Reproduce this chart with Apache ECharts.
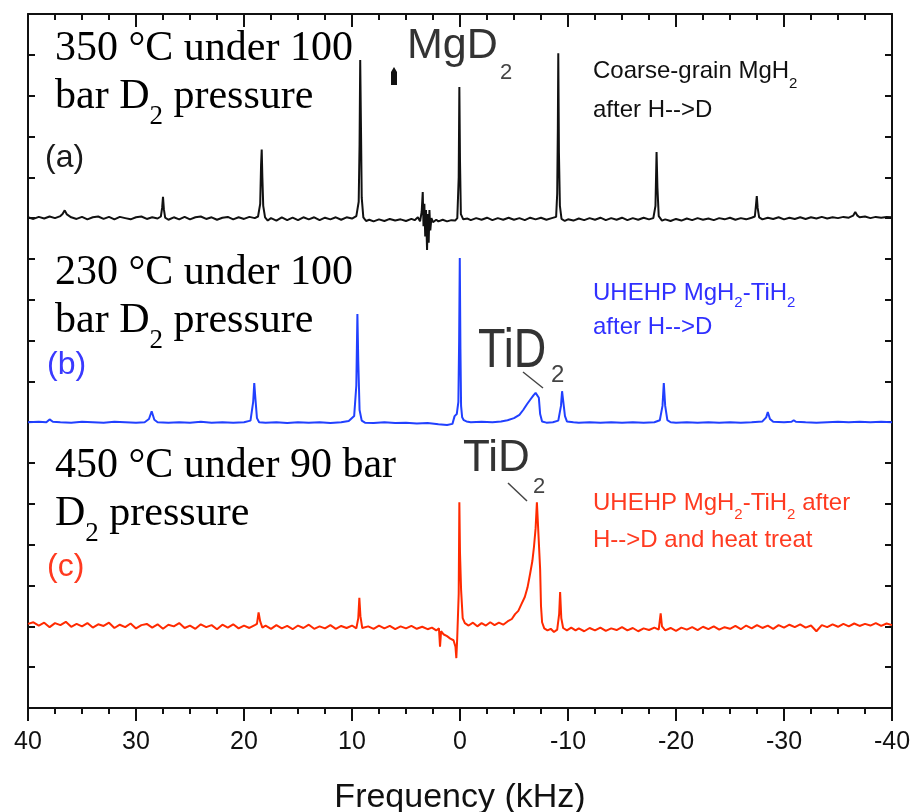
<!DOCTYPE html>
<html>
<head>
<meta charset="utf-8">
<script src="https://cdn.jsdelivr.net/npm/echarts@6/dist/echarts.min.js"></script>
<style>
  html, body { margin: 0; padding: 0; background: #ffffff; }
  #chart { width: 913px; height: 812px; }
</style>
</head>
<body>
<div id="chart"></div>
<script>
// Frequency axis (kHz), drawn from +40 on the left to -40 on the right
const freqTicks = [40, 30, 20, 10, 0, -10, -20, -30, -40];

// (a) Coarse-grain MgH2 after H-->D, 350 °C / 100 bar D2  — [kHz, intensity]
const traceA = [
  [40.0,0.02],[39.5,-0.02],[39.0,0.03],[38.5,-0.01],[38.0,0.04],[37.5,0.0],[37.0,0.05],[36.8,0.1],[36.6,0.19],[36.4,0.09],
  [36.0,0.02],[35.5,-0.02],[35.0,0.03],[34.5,-0.03],[34.0,0.02],[33.5,0.04],[33.0,-0.02],[32.5,0.03],[32.0,-0.03],[31.5,0.03],
  [31.0,0.0],[30.5,-0.03],[30.0,0.02],[29.5,0.04],[29.0,-0.02],[28.5,0.02],[28.0,-0.01],[27.7,0.04],[27.58,0.25],[27.5,0.52],
  [27.42,0.22],[27.3,0.01],[27.0,-0.04],[26.5,0.02],[26.0,-0.03],[25.5,0.03],[25.0,-0.03],[24.5,0.02],[24.0,0.04],[23.5,-0.02],
  [23.0,0.02],[22.5,-0.04],[22.0,0.01],[21.5,0.03],[21.0,-0.03],[20.5,0.02],[20.0,-0.02],[19.5,0.03],[19.0,0.0],[18.7,0.04],
  [18.5,0.35],[18.42,1.3],[18.36,1.68],[18.3,1.0],[18.22,0.3],[18.05,0.02],[17.8,-0.06],[17.5,0.0],[17.0,-0.06],[16.5,0.02],
  [16.0,-0.05],[15.5,0.01],[15.0,-0.05],[14.5,0.02],[14.0,-0.03],[13.5,0.02],[13.0,-0.05],[12.5,0.01],[12.0,-0.03],[11.5,0.02],
  [11.0,-0.04],[10.5,0.02],[10.0,-0.01],[9.6,0.05],[9.38,0.4],[9.3,1.8],[9.24,3.87],[9.16,2.0],[9.1,0.5],[8.95,0.02],
  [8.7,-0.07],[8.4,-0.04],[8.0,-0.08],[7.5,-0.03],[7.0,-0.07],[6.5,-0.02],[6.0,-0.06],[5.5,-0.03],[5.0,-0.07],[4.5,-0.02],
  [4.2,-0.05],[3.9,0.02],[3.7,-0.08],[3.55,0.15],[3.45,0.64],[3.38,-0.2],[3.3,0.35],[3.22,-0.45],[3.15,0.2],[3.05,-0.78],
  [2.98,0.1],[2.9,-0.6],[2.83,0.2],[2.75,-0.3],[2.65,0.0],[2.5,-0.1],[2.2,-0.04],[2.0,-0.08],[1.6,-0.04],[1.2,-0.08],
  [0.8,-0.05],[0.45,-0.06],[0.25,0.0],[0.12,1.0],[0.06,3.21],[0.0,1.4],[-0.08,0.1],[-0.3,-0.03],[-0.7,-0.01],[-1.0,-0.05],
  [-1.5,0.0],[-2.0,-0.04],[-2.5,0.01],[-3.0,-0.05],[-3.5,0.0],[-4.0,-0.04],[-4.5,0.01],[-5.0,-0.04],[-5.5,0.0],[-6.0,-0.05],
  [-6.5,0.01],[-7.0,-0.03],[-7.5,0.01],[-8.0,-0.04],[-8.5,0.0],[-8.9,0.03],[-9.0,0.6],[-9.06,2.2],[-9.1,4.04],[-9.16,1.6],
  [-9.25,0.3],[-9.4,-0.02],[-9.7,-0.07],[-10.0,-0.03],[-10.5,-0.06],[-11.0,-0.01],[-11.5,-0.05],[-12.0,0.0],[-12.5,-0.04],[-13.0,0.01],
  [-13.5,-0.05],[-14.0,0.0],[-14.5,-0.04],[-15.0,0.01],[-15.5,-0.05],[-16.0,0.0],[-16.5,-0.04],[-17.0,0.01],[-17.5,-0.03],[-17.9,0.0],
  [-18.1,0.3],[-18.2,1.62],[-18.28,0.75],[-18.4,0.05],[-18.7,-0.06],[-19.0,-0.03],[-19.5,-0.07],[-20.0,-0.02],[-20.5,-0.06],[-21.0,-0.01],
  [-21.5,-0.05],[-22.0,0.0],[-22.5,-0.04],[-23.0,-0.01],[-23.5,-0.05],[-24.0,0.0],[-24.5,-0.03],[-25.0,0.01],[-25.5,-0.04],[-26.0,0.0],
  [-26.5,-0.03],[-27.0,0.01],[-27.3,0.04],[-27.4,0.3],[-27.48,0.54],[-27.56,0.25],[-27.7,0.02],[-28.0,-0.03],[-28.5,0.01],[-29.0,-0.02],
  [-29.5,0.02],[-30.0,-0.03],[-30.5,0.01],[-31.0,-0.02],[-31.5,0.02],[-32.0,-0.02],[-32.5,0.02],[-33.0,-0.01],[-33.5,0.03],[-34.0,-0.01],
  [-34.5,0.02],[-35.0,0.0],[-35.5,0.03],[-36.0,0.01],[-36.4,0.06],[-36.6,0.15],[-36.8,0.06],[-37.0,0.02],[-37.5,0.04],[-38.0,0.0],
  [-38.5,0.03],[-39.0,0.01],[-39.5,0.03],[-40.0,0.02]
];

// (b) UHEHP MgH2-TiH2 after H-->D, 230 °C / 100 bar D2
const traceB = [
  [40,0.0],[39,0.01],[38.3,0.0],[38.0,0.07],[37.7,0.01],[37,0.0],[36,-0.01],[35,0.01],[34,0.0],[33,-0.01],
  [32,0.01],[31,0.0],[30,-0.01],[29.2,0.0],[28.8,0.08],[28.55,0.27],[28.3,0.06],[28.0,0.0],[27,-0.01],[26,0.0],
  [25,-0.01],[24,0.01],[23,-0.01],[22,0.0],[21,-0.01],[20,0.0],[19.4,0.04],[19.15,0.5],[19.05,0.96],[18.95,0.6],
  [18.8,0.1],[18.6,0.0],[18,-0.01],[17,0.0],[16,-0.02],[15,0.0],[14,-0.01],[13,0.0],[12,-0.02],[11,0.0],
  [10.3,0.03],[9.8,0.15],[9.6,0.9],[9.5,2.65],[9.42,1.5],[9.3,0.3],[9.1,0.04],[8.8,-0.01],[8,-0.02],[7,0.0],
  [6,-0.02],[5,-0.01],[4,-0.03],[3,-0.02],[2,-0.05],[1.2,-0.07],[0.7,-0.04],[0.5,0.15],[0.3,0.2],[0.15,0.5],
  [0.08,2.0],[0.02,4.02],[-0.04,1.8],[-0.1,0.4],[-0.2,0.12],[-0.35,0.05],[-0.6,0.02],[-1.0,0.0],[-2.0,0.01],[-3.0,0.0],
  [-3.8,0.02],[-4.4,0.05],[-5.0,0.1],[-5.5,0.18],[-5.85,0.3],[-6.2,0.44],[-6.5,0.55],[-6.8,0.66],[-7.0,0.72],[-7.15,0.76],
  [-7.3,0.6],[-7.42,0.2],[-7.6,0.02],[-8.0,-0.01],[-8.6,0.0],[-9.1,0.04],[-9.35,0.4],[-9.45,0.76],[-9.6,0.74],[-9.72,0.15],
  [-9.9,0.02],[-10.5,0.0],[-11,-0.01],[-12,0.0],[-13,-0.01],[-14,0.0],[-15,-0.01],[-16,0.0],[-17,-0.01],[-18,0.0],
  [-18.5,0.05],[-18.75,0.4],[-18.87,0.96],[-19.0,0.4],[-19.2,0.05],[-19.5,0.0],[-20,-0.01],[-21,0.0],[-22,-0.01],[-23,0.0],
  [-24,-0.01],[-25,0.0],[-26,-0.01],[-27,0.0],[-28,0.02],[-28.35,0.12],[-28.5,0.25],[-28.7,0.08],[-29,0.01],[-30,0.0],
  [-30.7,0.01],[-30.9,0.05],[-31.1,0.01],[-32,0.0],[-33,-0.01],[-34,0.0],[-35,0.01],[-36,0.0],[-37,0.01],[-38,0.0],
  [-39,0.01],[-40,0.0]
];

// (c) UHEHP MgH2-TiH2 after H-->D and heat treat, 450 °C / 90 bar D2
const traceC = [
  [40.0,0.06],[39.5,0.1],[39.0,0.02],[38.5,0.09],[38.0,-0.02],[37.5,0.08],[37.0,0.03],[36.5,0.11],[36.0,-0.01],[35.5,0.06],
  [35.0,0.0],[34.5,0.08],[34.0,-0.03],[33.5,0.05],[33.0,0.01],[32.5,0.09],[32.0,-0.04],[31.5,0.04],[31.0,-0.02],[30.5,0.07],
  [30.0,-0.05],[29.5,0.03],[29.0,0.06],[28.5,-0.03],[28.0,0.05],[27.5,-0.06],[27.0,0.04],[26.5,0.0],[26.0,0.08],[25.5,-0.04],
  [25.0,0.02],[24.5,-0.06],[24.0,0.05],[23.5,-0.02],[23.0,0.03],[22.5,-0.07],[22.0,0.04],[21.5,-0.03],[21.0,0.05],[20.5,-0.05],
  [20.0,0.02],[19.5,-0.04],[19.0,0.03],[18.8,0.06],[18.65,0.34],[18.5,0.12],[18.3,-0.03],[18.0,0.02],[17.5,-0.06],[17.0,0.03],
  [16.5,-0.05],[16.0,0.01],[15.5,-0.07],[15.0,0.02],[14.5,-0.04],[14.0,0.04],[13.5,-0.06],[13.0,0.0],[12.5,-0.05],[12.0,0.03],
  [11.5,-0.06],[11.0,0.01],[10.5,-0.04],[10.0,0.02],[9.6,-0.05],[9.42,0.2],[9.32,0.7],[9.22,0.25],[9.05,-0.04],[8.5,0.0],
  [8.0,-0.06],[7.5,0.02],[7.0,-0.05],[6.5,0.01],[6.0,-0.07],[5.5,0.0],[5.0,-0.05],[4.5,0.01],[4.0,-0.06],[3.5,-0.01],
  [3.0,-0.07],[2.6,-0.03],[2.2,-0.1],[1.95,-0.05],[1.85,-0.5],[1.75,-0.12],[1.5,-0.2],[1.2,-0.24],[0.9,-0.3],[0.6,-0.34],
  [0.42,-0.5],[0.34,-0.78],[0.26,-0.3],[0.12,0.8],[0.06,3.04],[0.0,1.8],[-0.1,0.9],[-0.25,0.2],[-0.45,0.08],[-0.8,0.02],
  [-1.2,0.09],[-1.6,0.0],[-2.0,0.08],[-2.4,0.02],[-2.8,0.1],[-3.2,0.03],[-3.6,0.09],[-4.0,0.04],[-4.4,0.12],[-4.8,0.18],
  [-5.1,0.3],[-5.4,0.38],[-5.7,0.55],[-6.0,0.72],[-6.25,0.95],[-6.5,1.3],[-6.7,1.6],[-6.85,1.95],[-7.0,2.4],[-7.12,3.04],
  [-7.3,3.04],[-7.42,1.4],[-7.5,0.5],[-7.6,0.1],[-7.8,-0.05],[-8.1,-0.1],[-8.4,-0.06],[-8.7,-0.14],[-9.0,-0.08],[-9.18,0.3],
  [-9.27,0.84],[-9.38,0.2],[-9.55,-0.04],[-9.9,-0.1],[-10.3,-0.03],[-10.7,-0.1],[-11.0,-0.05],[-11.5,-0.12],[-12.0,-0.04],[-12.5,-0.1],
  [-13.0,-0.03],[-13.5,-0.11],[-14.0,-0.05],[-14.5,-0.09],[-15.0,-0.02],[-15.5,-0.1],[-16.0,-0.04],[-16.5,-0.12],[-17.0,-0.05],[-17.5,-0.09],
  [-18.0,-0.03],[-18.4,-0.08],[-18.58,0.32],[-18.7,0.0],[-19.0,-0.1],[-19.5,-0.04],[-20.0,-0.11],[-20.5,-0.03],[-21.0,-0.08],[-21.5,-0.02],
  [-22.0,-0.09],[-22.5,-0.01],[-23.0,-0.07],[-23.5,0.0],[-24.0,-0.08],[-24.5,-0.02],[-25.0,-0.06],[-25.5,0.01],[-26.0,-0.07],[-26.5,0.02],
  [-27.0,-0.05],[-27.5,0.03],[-28.0,-0.04],[-28.5,0.02],[-29.0,-0.06],[-29.5,0.03],[-30.0,-0.03],[-30.5,0.04],[-31.0,-0.02],[-31.5,0.05],
  [-32.0,-0.03],[-32.5,0.02],[-33.0,-0.12],[-33.5,0.03],[-34.0,-0.02],[-34.5,0.05],[-35.0,-0.01],[-35.5,0.06],[-36.0,0.0],[-36.5,0.07],
  [-37.0,0.01],[-37.5,0.06],[-38.0,0.02],[-38.5,0.08],[-39.0,0.01],[-39.5,0.07],[-40.0,0.03]
];

// vertical stacking of the three spectra (in tick units)
const offsetA = 12, offsetB = 7, offsetC = 2;

const BLACK = '#111111';
const BLUE = '#2140ff';
const RED = '#ff2a00';

const shift = (arr, off) => arr.map(([f, v]) => [f, v + off]);

const chart = echarts.init(document.getElementById('chart'), null, { renderer: 'canvas' });

const serif = 'Liberation Serif';
const sans = 'Liberation Sans';

// rich-text styles for the condition labels (large serif with subscript)
const serifRich = (color) => ({
  m: { fontFamily: serif, fontSize: 42, lineHeight: 48, fill: color },
  s: { fontFamily: serif, fontSize: 27, verticalAlign: 'bottom', padding: [0, 0, -9, 0], fill: color }
});
const sansRich = (color, lh, subLh) => ({
  m: { fontFamily: sans, fontSize: 24, lineHeight: lh, fill: color },
  s: { fontFamily: sans, fontSize: 15, lineHeight: subLh, verticalAlign: 'bottom', fill: color }
});

const xCommon = {
  type: 'value', min: -40, max: 40, interval: 10, inverse: true
};
const yCommon = {
  type: 'value', min: 0, max: 17, interval: 1,
  axisLabel: { show: false }, splitLine: { show: false },
  axisLine: { show: true, onZero: false, lineStyle: { color: BLACK, width: 2 } },
  axisTick: { show: true, inside: true, length: 7, lineStyle: { color: BLACK, width: 2 } }
};

chart.setOption({
  animation: false,
  backgroundColor: '#ffffff',
  grid: { left: 28, right: 21, top: 14, bottom: 104, containLabel: false, outerBoundsMode: 'none' },
  xAxis: [
    Object.assign({}, xCommon, {
      position: 'bottom',
      name: 'Frequency (kHz)', nameLocation: 'middle', nameGap: 73,
      nameTextStyle: { fontFamily: sans, fontSize: 34, color: BLACK },
      axisLine: { onZero: false, lineStyle: { color: BLACK, width: 2 } },
      axisTick: { show: true, inside: false, length: 13, lineStyle: { color: BLACK, width: 2 } },
      minorTick: { show: true, splitNumber: 4, length: 6, lineStyle: { color: BLACK, width: 2 } },
      axisLabel: { show: true, margin: 22, fontFamily: sans, fontSize: 25, color: BLACK,
        formatter: (v) => (freqTicks.includes(v) ? String(v) : '') },
      splitLine: { show: false }, minorSplitLine: { show: false }
    }),
    Object.assign({}, xCommon, {
      position: 'top',
      axisLine: { onZero: false, lineStyle: { color: BLACK, width: 2 } },
      axisTick: { show: true, inside: true, length: 13, lineStyle: { color: BLACK, width: 2 } },
      minorTick: { show: true, splitNumber: 4, length: 6, lineStyle: { color: BLACK, width: 2 } },
      axisLabel: { show: false },
      splitLine: { show: false }
    })
  ],
  yAxis: [
    Object.assign({}, yCommon, { position: 'left' }),
    Object.assign({}, yCommon, { position: 'right' })
  ],
  series: [
    { type: 'line', name: 'a', data: shift(traceA, offsetA), showSymbol: false, symbol: 'none',
      lineStyle: { color: BLACK, width: 2 }, z: 3 },
    { type: 'line', name: 'b', data: shift(traceB, offsetB), showSymbol: false, symbol: 'none',
      lineStyle: { color: BLUE, width: 2 }, z: 3 },
    { type: 'line', name: 'c', data: shift(traceC, offsetC), showSymbol: false, symbol: 'none',
      lineStyle: { color: RED, width: 2 }, z: 3 }
  ],
  graphic: [
    // condition labels
    { type: 'text', x: 55, y: 25, z: 10, style: { text: '{m|350 °C under 100}\n{m|bar D}{s|2}{m| pressure}', rich: serifRich('#000'), align: 'left', verticalAlign: 'top' } },
    { type: 'text', x: 55, y: 249, z: 10, style: { text: '{m|230 °C under 100}\n{m|bar D}{s|2}{m| pressure}', rich: serifRich('#000'), align: 'left', verticalAlign: 'top' } },
    { type: 'text', x: 55, y: 442, z: 10, style: { text: '{m|450 °C under 90 bar}\n{m|D}{s|2}{m| pressure}', rich: serifRich('#000'), align: 'left', verticalAlign: 'top' } },
    // panel letters
    { type: 'text', x: 45, y: 158, z: 10, style: { text: '(a)', fontFamily: sans, fontSize: 32, fill: '#1a1a1a', align: 'left', verticalAlign: 'middle' } },
    { type: 'text', x: 47, y: 365, z: 10, style: { text: '(b)', fontFamily: sans, fontSize: 32, fill: '#3a3aff', align: 'left', verticalAlign: 'middle' } },
    { type: 'text', x: 47, y: 567, z: 10, style: { text: '(c)', fontFamily: sans, fontSize: 32, fill: '#ff3a20', align: 'left', verticalAlign: 'middle' } },
    // sample descriptions
    { type: 'text', x: 593, y: 52, z: 10, style: { text: '{m|Coarse-grain MgH}{s|2}\n{m|after H-->D}', rich: sansRich('#111', 39, 17), align: 'left', verticalAlign: 'top' } },
    { type: 'text', x: 593, y: 276, z: 10, style: { text: '{m|UHEHP MgH}{s|2}{m|-TiH}{s|2}\n{m|after H-->D}', rich: sansRich('#3030ff', 34, 12), align: 'left', verticalAlign: 'top' } },
    { type: 'text', x: 593, y: 485, z: 10, style: { text: '{m|UHEHP MgH}{s|2}{m|-TiH}{s|2}{m| after}\n{m|H-->D and heat treat}', rich: sansRich('#ff3a20', 37, 15), align: 'left', verticalAlign: 'top' } },
    // phase annotations
    { type: 'text', x: 407, y: 46, z: 10, style: { text: 'MgD', fontFamily: sans, fontSize: 43, fill: '#333', align: 'left', verticalAlign: 'middle' } },
    { type: 'text', x: 500, y: 73, z: 10, style: { text: '2', fontFamily: sans, fontSize: 22, fill: '#444', align: 'left', verticalAlign: 'middle' } },
    { type: 'polygon', z: 10, shape: { points: [[391, 85], [391, 72], [394, 67], [397, 72], [397, 85]] }, style: { fill: '#111' } },

    { type: 'text', x: 478, y: 351, scaleY: 1.25, originY: 0, z: 10, style: { text: 'TiD', fontFamily: sans, fontSize: 45, fill: '#333', align: 'left', verticalAlign: 'middle' } },
    { type: 'text', x: 551, y: 375, z: 10, style: { text: '2', fontFamily: sans, fontSize: 24, fill: '#444', align: 'left', verticalAlign: 'middle' } },
    { type: 'line', z: 10, shape: { x1: 523, y1: 372, x2: 543, y2: 388 }, style: { stroke: '#444', lineWidth: 1.5 } },

    { type: 'text', x: 463, y: 459, z: 10, style: { text: 'TiD', fontFamily: sans, fontSize: 44, fill: '#333', align: 'left', verticalAlign: 'middle' } },
    { type: 'text', x: 533, y: 487, z: 10, style: { text: '2', fontFamily: sans, fontSize: 22, fill: '#444', align: 'left', verticalAlign: 'middle' } },
    { type: 'line', z: 10, shape: { x1: 508, y1: 483, x2: 527, y2: 501 }, style: { stroke: '#444', lineWidth: 1.5 } }
  ]
});
</script>
</body>
</html>
